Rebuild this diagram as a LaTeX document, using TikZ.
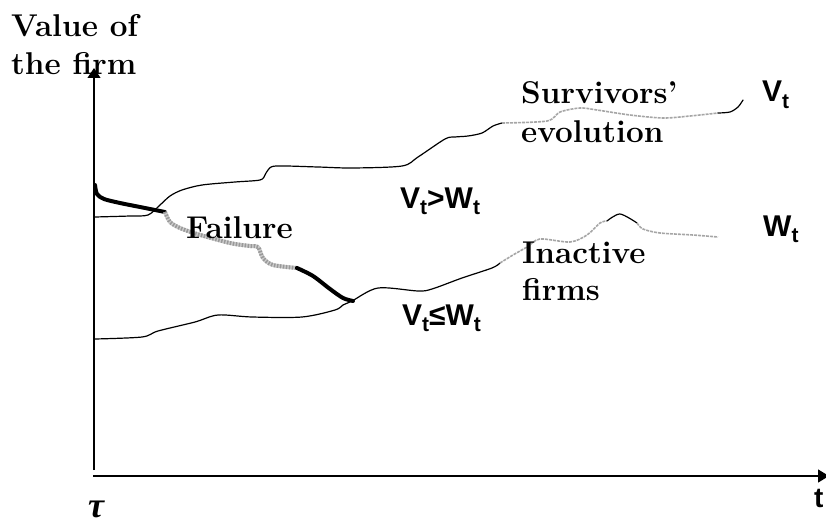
\documentclass[tikz,border=0pt]{standalone}
\usepackage{fontspec}
\newfontfamily\labsans{Liberation Sans}
\newfontfamily\grkserif{Liberation Serif}
\usetikzlibrary{arrows.meta}
\newcommand\sbt{\raisebox{-0.22em}{\fontsize{21}{21}\selectfont t}}
\begin{document}
\begin{tikzpicture}[x=1pt,y=-1pt,
  axisline/.style={line width=1.3pt,black},
  thinc/.style={line width=1.2pt,black,line join=round,line cap=round},
  thickc/.style={line width=4pt,black,line join=round,line cap=round},
  grayd/.style={line width=1.6pt,gray!70,dash pattern=on 3pt off 1pt},
  graybase/.style={line width=4pt,gray!40,line join=round},
  graytop/.style={line width=4pt,gray!80,dash pattern=on 1.5pt off 1.5pt},
  serif/.style={font=\rmfamily\bfseries\fontsize{31.5}{36}\selectfont,inner sep=0pt,anchor=base west},
  sanslab/.style={font=\labsans\bfseries\fontsize{30}{32}\selectfont,inner sep=0pt,anchor=base west}]
\useasboundingbox (0,0) rectangle (826,524);
\clip (0,0) rectangle (826,524);
% axes
\coordinate (ybot) at (94,470);
\coordinate (ytop) at (94,68);
\coordinate (xbeg) at (93,476);
\coordinate (xend) at (829,476);
\draw[axisline,-{Triangle[length=10pt,width=13pt]}] (ybot) -- (ytop);
\draw[axisline,-{Triangle[length=11pt,width=13pt]}] (xbeg) -- (xend);
% upper curve V_t
\draw[thinc] plot[smooth,tension=0.5] coordinates {(95,217) (130,216) (148,215) (160,205) (170,196) (182,190) (202,185) (235,182) (260,180) (265,175) (268,170) (276,166) (318,167) (352,168) (402,166) (418,157) (445,139) (455,137) (468,136) (482,133) (493,126) (502,123)};
\draw[grayd] plot[smooth,tension=0.5] coordinates {(502,123) (547,121) (560,112) (580,108) (597,110) (630,115) (663,118) (690,116) (718,113)};
\draw[thinc] plot[smooth,tension=0.5] coordinates {(718,113) (730,112) (738,107) (743,100)};
% lower curve W_t
\draw[thinc] plot[smooth,tension=0.5] coordinates {(95,339) (142,337) (158,331) (195,322) (218,315) (252,317) (302,317) (335,310) (343,305) (352,301) (378,288) (418,291) (432,289) (462,278) (492,268) (500,263)};
\draw[grayd] plot[smooth,tension=0.5] coordinates {(500,263) (513,255) (527,247) (540,239) (570,242) (587,235) (600,223) (607,221)};
\draw[thinc] plot[smooth,tension=0.5] coordinates {(607,221) (620,214) (637,223)};
\draw[grayd] plot[smooth,tension=0.5] coordinates {(637,223) (643,229) (660,233) (693,235) (718,237)};
% failure path
\draw[thickc] plot[smooth,tension=0.5] coordinates {(95,185) (97,194) (104,199) (120,203) (140,207) (165,212)};
\draw[graybase] plot[smooth,tension=0.5] coordinates {(165,212) (170,222) (180,228) (197,234) (230,243) (250,246) (258,247) (263,258) (273,265) (297,268)};
\draw[graytop] plot[smooth,tension=0.5] coordinates {(165,212) (170,222) (180,228) (197,234) (230,243) (250,246) (258,247) (263,258) (273,265) (297,268)};
\draw[thickc] plot[smooth,tension=0.5] coordinates {(297,268) (313,276) (330,289) (343,298) (353,301)};
% labels
\node[serif] (val1) at (11,37) {Value of};
\node[serif] (val2) at (11,75) {the firm};
\node[serif] (fail) at (186,238) {Failure};
\node[serif] (surv1) at (521,103) {Survivors’};
\node[serif] (surv2) at (521,142) {evolution};
\node[serif] (inac1) at (522,263) {Inactive};
\node[serif] (inac2) at (522,300) {firms};
\node[sanslab] (vgw) at (400,208) {V\sbt{}>W\sbt};
\node[sanslab] (vlw) at (402,325) {V\sbt{}≤W\sbt};
\node[sanslab] (vt) at (762,102) {V\sbt};
\node[sanslab] (wt) at (763,236) {W\sbt};
\node[inner sep=0pt,anchor=base west,font=\grkserif\bfseries\itshape\fontsize{36}{40}\selectfont] (tau) at (88,517) {τ};
\node[sanslab,font=\labsans\bfseries\fontsize{28}{30}\selectfont] (tlab) at (814,507) {t};
\end{tikzpicture}
\end{document}
